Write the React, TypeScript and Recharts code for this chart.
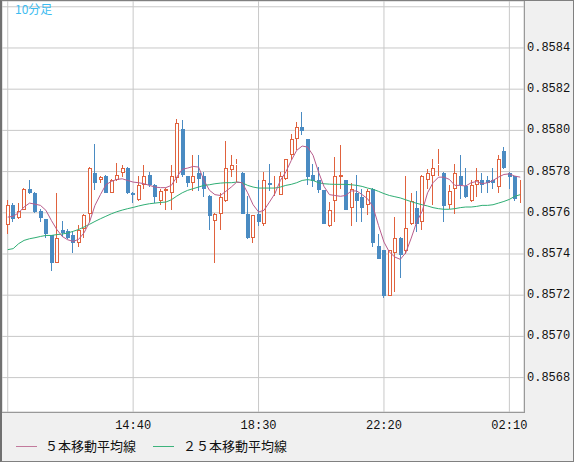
import { Bar, CartesianGrid, ComposedChart, Line, XAxis, YAxis } from "recharts";

// 10-minute candles, 10:50 -> 02:30
const openPrices = [
  0.857539, 0.857636, 0.857574, 0.857615, 0.857717, 0.857697, 0.857607, 0.857568, 0.85749, 0.857358,
  0.857518, 0.85751, 0.85749, 0.857455, 0.857519, 0.857595, 0.857794, 0.857757, 0.857777, 0.857697,
  0.857757, 0.857794, 0.857819, 0.857697, 0.85766, 0.857736, 0.857785, 0.857736, 0.857657, 0.857706,
  0.857697, 0.857769, 0.858008, 0.857777, 0.857744, 0.857794, 0.857777, 0.85768, 0.857558, 0.857595,
  0.857657, 0.857809, 0.857833, 0.857794, 0.857595, 0.857477, 0.857595, 0.857547, 0.857746, 0.857694,
  0.857688, 0.857765, 0.857879, 0.857956, 0.858016, 0.857956, 0.857785, 0.857757, 0.857709, 0.857536,
  0.857657, 0.857773, 0.857757, 0.857625, 0.857697, 0.857676, 0.857636, 0.857717, 0.857437, 0.857417,
  0.857196, 0.857406, 0.857479, 0.857414, 0.857547, 0.857625, 0.857555, 0.857757, 0.857777, 0.85783,
  0.857794, 0.857636, 0.857717, 0.857777, 0.857728, 0.857657, 0.857733, 0.857757, 0.857757, 0.857757,
  0.857725, 0.857898, 0.857794, 0.857777, 0.857715,
];
const highPrices = [
  0.85766, 0.857649, 0.857649, 0.85772, 0.857757, 0.857701, 0.85762, 0.857571, 0.857494, 0.857697,
  0.857558, 0.857523, 0.857506, 0.857539, 0.857595, 0.857822, 0.857935, 0.857777, 0.857782, 0.857762,
  0.857841, 0.85783, 0.857822, 0.857701, 0.857777, 0.85783, 0.857798, 0.857739, 0.857717, 0.85772,
  0.85783, 0.858057, 0.858049, 0.85778, 0.857879, 0.857879, 0.857798, 0.857684, 0.8576, 0.857697,
  0.857947, 0.857879, 0.857859, 0.857798, 0.85768, 0.85759, 0.857757, 0.857798, 0.857838, 0.857777,
  0.857798, 0.857862, 0.857984, 0.85804, 0.858089, 0.85796, 0.857838, 0.857822, 0.857712, 0.857652,
  0.857871, 0.857927, 0.857761, 0.857746, 0.857782, 0.857717, 0.857717, 0.85772, 0.857498, 0.85742,
  0.85742, 0.857579, 0.857482, 0.857777, 0.857697, 0.857706, 0.857782, 0.857811, 0.857859, 0.857908,
  0.857798, 0.857736, 0.857838, 0.857879, 0.857819, 0.857757, 0.857819, 0.857794, 0.857777, 0.857819,
  0.857879, 0.857919, 0.857798, 0.85778, 0.857757,
];
const lowPrices = [
  0.857498, 0.857555, 0.857571, 0.857612, 0.857693, 0.8576, 0.857555, 0.857477, 0.857317, 0.857356,
  0.857482, 0.857474, 0.857406, 0.857434, 0.857477, 0.857555, 0.857709, 0.857746, 0.857696, 0.857694,
  0.857752, 0.857773, 0.857693, 0.857649, 0.857657, 0.857717, 0.857725, 0.857649, 0.857636, 0.857615,
  0.857615, 0.857746, 0.857773, 0.857725, 0.857704, 0.857704, 0.857676, 0.857515, 0.857358, 0.857515,
  0.857652, 0.857773, 0.857749, 0.857592, 0.857474, 0.857455, 0.857536, 0.857536, 0.857704, 0.857681,
  0.857684, 0.857757, 0.857854, 0.857903, 0.857976, 0.857733, 0.857725, 0.857697, 0.857544, 0.857532,
  0.857555, 0.857717, 0.857612, 0.857536, 0.857555, 0.857555, 0.857587, 0.857434, 0.857374, 0.857186,
  0.857196, 0.857215, 0.857283, 0.857401, 0.857539, 0.857506, 0.857515, 0.857717, 0.857636, 0.857777,
  0.857555, 0.857617, 0.857595, 0.857668, 0.857673, 0.857652, 0.857676, 0.857697, 0.857697, 0.857717,
  0.857697, 0.857814, 0.857717, 0.857656, 0.857647,
];
const closePrices = [
  0.857636, 0.857571, 0.857607, 0.857717, 0.857696, 0.857604, 0.857574, 0.857495, 0.857356, 0.857479,
  0.857502, 0.857477, 0.857455, 0.857515, 0.857587, 0.857819, 0.857744, 0.857773, 0.857696, 0.857757,
  0.857785, 0.857819, 0.857696, 0.857688, 0.857736, 0.857777, 0.857736, 0.857676, 0.857706, 0.857717,
  0.857777, 0.858037, 0.857785, 0.857744, 0.857777, 0.857765, 0.857717, 0.857584, 0.857595, 0.857676,
  0.857819, 0.85783, 0.857838, 0.857595, 0.857477, 0.857587, 0.857555, 0.857757, 0.857733, 0.857697,
  0.857777, 0.857859, 0.857956, 0.858016, 0.857995, 0.857773, 0.857752, 0.857709, 0.857547, 0.857615,
  0.857777, 0.857785, 0.857615, 0.857717, 0.857657, 0.857625, 0.857706, 0.857455, 0.857374, 0.857196,
  0.857417, 0.857479, 0.857393, 0.857528, 0.857657, 0.857547, 0.857777, 0.857794, 0.857819, 0.857838,
  0.857633, 0.857706, 0.857794, 0.857736, 0.857676, 0.857736, 0.857757, 0.857736, 0.857744, 0.857746,
  0.857859, 0.857817, 0.857773, 0.857668, 0.857717,
];
const ma5Values = [
  0.857579, 0.857583, 0.8576, 0.857628, 0.857647, 0.857642, 0.857636, 0.857612, 0.857563, 0.857519,
  0.857485, 0.857469, 0.857461, 0.857471, 0.857503, 0.857555, 0.857636, 0.857688, 0.857736, 0.857752,
  0.857762, 0.857765, 0.857757, 0.857749, 0.857746, 0.857741, 0.857733, 0.857725, 0.857722, 0.857722,
  0.857733, 0.857773, 0.857811, 0.857817, 0.857825, 0.857822, 0.857757, 0.857709, 0.857688, 0.857684,
  0.857704, 0.857725, 0.857749, 0.857746, 0.857697, 0.857639, 0.857604, 0.857612, 0.857652, 0.857693,
  0.857757, 0.857798, 0.857854, 0.857903, 0.857924, 0.857919, 0.857879, 0.857798, 0.857728, 0.857688,
  0.857684, 0.85768, 0.857684, 0.857706, 0.857706, 0.857688, 0.857668, 0.857628, 0.857539, 0.857458,
  0.857409, 0.857385, 0.857374, 0.857406, 0.857477, 0.857555, 0.857607, 0.857697, 0.857746, 0.857773,
  0.857773, 0.857762, 0.857733, 0.857733, 0.85773, 0.857746, 0.857752, 0.857741, 0.857746, 0.857757,
  0.857773, 0.857786, 0.857789, 0.857778, 0.857773,
];
const ma25Values = [
  0.857421, 0.857426, 0.85745, 0.857466, 0.857474, 0.857479, 0.857485, 0.85749, 0.85749, 0.857494,
  0.857497, 0.857502, 0.85751, 0.857519, 0.857531, 0.857544, 0.857558, 0.857571, 0.857583, 0.857595,
  0.857605, 0.857613, 0.85762, 0.857626, 0.857633, 0.857639, 0.857644, 0.857647, 0.85765, 0.857652,
  0.857663, 0.857681, 0.857697, 0.857709, 0.857717, 0.857725, 0.857733, 0.857736, 0.857741, 0.857744,
  0.857746, 0.857746, 0.857749, 0.857746, 0.857733, 0.857725, 0.85772, 0.85772, 0.85772, 0.85772,
  0.857725, 0.857733, 0.857738, 0.857746, 0.857757, 0.857761, 0.857757, 0.857746, 0.857741, 0.857739,
  0.857738, 0.857738, 0.857738, 0.857736, 0.857733, 0.857728, 0.85772, 0.857714, 0.857704, 0.857693,
  0.857684, 0.857678, 0.857672, 0.857663, 0.857654, 0.857646, 0.857639, 0.857633, 0.857625, 0.85762,
  0.857617, 0.857617, 0.85762, 0.857625, 0.857628, 0.857628, 0.857631, 0.857636, 0.857636, 0.857639,
  0.857647, 0.857655, 0.857665, 0.85768, 0.857688,
];
const timeTicks = ["10:50", "14:40", "18:30", "22:20", "02:10"];
const priceTicks = [0.8568, 0.857, 0.8572, 0.8574, 0.8576, 0.8578, 0.858, 0.8582, 0.8584, 0.8586];

const UP = "#e0623e";
const DOWN = "#4a8bc2";

function timeLabel(i: number) {
  const m = (10 * 60 + 50 + i * 10) % (24 * 60);
  return `${String(Math.floor(m / 60)).padStart(2, "0")}:${String(m % 60).padStart(2, "0")}`;
}

const data = openPrices.map((open, i) => ({
  time: timeLabel(i),
  open,
  high: highPrices[i],
  low: lowPrices[i],
  close: closePrices[i],
  range: [lowPrices[i], highPrices[i]],
  ma5: ma5Values[i],
  ma25: ma25Values[i],
}));

function Candle(props: any) {
  const { x, y, width, height, payload } = props;
  if (x == null || !payload) return null;
  const { open, close, high, low } = payload;
  const top = Math.min(y, y + height);
  const bottom = Math.max(y, y + height);
  const py = (p: number) => top + ((high - p) / (high - low)) * (bottom - top);
  const c = Math.floor(x + width / 2);
  const hi = Math.round(top);
  const lo = Math.round(bottom);
  const bTop = Math.round(py(Math.max(open, close)));
  const bBot = Math.round(py(Math.min(open, close)));
  const wx = c + 0.5;

  if (close >= open) {
    const h = Math.max(bBot - bTop - 1, 0);
    return (
      <g shapeRendering="crispEdges">
        <line x1={wx} x2={wx} y1={hi} y2={bTop} stroke={UP} />
        <line x1={wx} x2={wx} y1={bBot} y2={lo} stroke={UP} />
        <rect x={c - 0.5} y={bTop + 0.5} width={3} height={h} fill="#fff" stroke={UP} />
      </g>
    );
  }
  return (
    <g shapeRendering="crispEdges">
      <line x1={wx} x2={wx} y1={hi} y2={lo} stroke={DOWN} />
      <rect x={c - 1} y={bTop} width={4} height={Math.max(bBot - bTop, 1)} fill={DOWN} />
    </g>
  );
}

function TimeTick(props: any) {
  const { x, y, payload } = props;
  if (payload.value === "10:50") return null;
  return (
    <text x={x} y={y + 9} textAnchor="middle" fontSize={12} fontFamily="Liberation Mono, monospace" fill="#111">
      {payload.value}
    </text>
  );
}

function PriceTick(props: any) {
  const { x, y, payload } = props;
  if (payload.value > 0.85855) return null;
  return (
    <text x={x - 5} y={y} dominantBaseline="central" textAnchor="start" fontSize={12} fontFamily="Liberation Mono, monospace" fill="#111">
      {payload.value.toFixed(4)}
    </text>
  );
}

export default function App() {
  return (
    <div style={{ position: "absolute", left: 0, top: 0, width: 574, height: 462, background: "#f0f0f0" }}>
      <ComposedChart width={574} height={462} data={data} margin={{ top: 1, right: 0, bottom: 30, left: 2 }}>
        <CartesianGrid stroke="#c8c8c8" fill="#fff" />
        <XAxis
          dataKey="time"
          ticks={timeTicks}
          interval={0}
          tickLine={false}
          axisLine={false}
          height={20}
          padding={{ left: 3, right: 1 }}
          tick={<TimeTick />}
        />
        <YAxis
          orientation="right"
          width={50}
          domain={[0.856633, 0.858628]}
          allowDataOverflow
          ticks={priceTicks}
          interval={0}
          tickLine={false}
          axisLine={false}
          tick={<PriceTick />}
        />
        <Bar dataKey="range" shape={<Candle />} isAnimationActive={false} />
        <Line dataKey="ma25" stroke="#2fae74" strokeWidth={1} dot={false} isAnimationActive={false} />
        <Line dataKey="ma5" stroke="#b85c8c" strokeWidth={1} dot={false} isAnimationActive={false} />
      </ComposedChart>
      <div style={{ position: "absolute", left: 0, top: 0, width: 525, height: 413, boxSizing: "border-box", borderRight: "1px solid #999", borderBottom: "1px solid #999", pointerEvents: "none" }} />
      <div style={{ position: "absolute", left: 0, top: 0, width: 574, height: 462, boxSizing: "border-box", border: "1px solid #808080", borderLeft: "2px solid #707070", pointerEvents: "none" }} />
      <div style={{ position: "absolute", left: 15, top: 2, fontSize: 12, color: "#3cbcf0", fontFamily: "Noto Sans CJK JP, sans-serif", lineHeight: "14px" }}>
        10分足
      </div>
      <div style={{ position: "absolute", left: 16, top: 438, display: "flex", alignItems: "center", fontSize: 13, color: "#111", fontFamily: "Noto Sans CJK JP, sans-serif", lineHeight: "16px" }}>
        <span style={{ display: "inline-block", width: 21, height: 1, background: "#c27a9c", marginRight: 8 }} />
        <span>５本移動平均線</span>
        <span style={{ display: "inline-block", width: 21, height: 1, background: "#3db37c", marginLeft: 17, marginRight: 9 }} />
        <span>２５本移動平均線</span>
      </div>
    </div>
  );
}
